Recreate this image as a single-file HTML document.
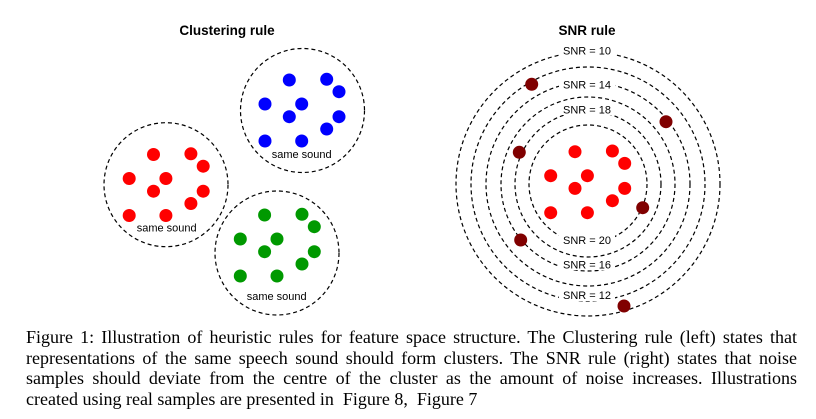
<!DOCTYPE html>
<html><head><style>
html,body{margin:0;padding:0;background:#fff;width:816px;height:419px;overflow:hidden;position:relative}
svg{position:absolute;left:0;top:0}
.cap{position:absolute;left:26px;top:327px;width:771px;font-family:"Liberation Serif",serif;font-size:18px;line-height:20.5px;color:#000;text-align:justify}
.cap span{display:block;text-align:justify;text-align-last:justify;white-space:nowrap}
.cap span.l{text-align-last:left}
</style></head><body>
<svg width="816" height="419" font-family="Liberation Sans, sans-serif">
<defs>
<g id="cl">
<circle cx="289.3" cy="80" r="6.5"/><circle cx="326.7" cy="79.3" r="6.5"/><circle cx="339" cy="91.7" r="6.5"/>
<circle cx="265" cy="104" r="6.5"/><circle cx="301.7" cy="104" r="6.5"/><circle cx="289.3" cy="116.7" r="6.5"/>
<circle cx="339" cy="116.7" r="6.5"/><circle cx="326.7" cy="129" r="6.5"/><circle cx="265" cy="141" r="6.5"/>
<circle cx="301.7" cy="141" r="6.5"/>
</g>
</defs>
<text x="227" y="35" font-size="13.5" font-weight="bold" text-anchor="middle">Clustering rule</text>
<g fill="none" stroke="#000" stroke-width="1.2" stroke-dasharray="4,3">
<circle cx="302.5" cy="110.5" r="62"/>
<circle cx="166" cy="184.7" r="62"/>
<circle cx="277" cy="253" r="62"/>
</g>
<use href="#cl" fill="#0000ff"/>
<use href="#cl" fill="#ff0000" transform="translate(-135.8,74.5)"/>
<use href="#cl" fill="#009900" transform="translate(-24.7,135)"/>
<g font-size="11" text-anchor="middle">
<text x="301.7" y="158">same sound</text>
<text x="166.7" y="231.5">same sound</text>
<text x="276.7" y="300">same sound</text>
</g>
<text x="587" y="35" font-size="13.5" font-weight="bold" text-anchor="middle">SNR rule</text>
<g fill="none" stroke="#000" stroke-width="1.2" stroke-dasharray="4,3">
<circle cx="588" cy="184" r="132"/>
<circle cx="588" cy="184" r="117"/>
<circle cx="588" cy="184" r="102"/>
<circle cx="588" cy="184" r="87"/>
<circle cx="588" cy="184" r="73"/>
<circle cx="588" cy="184" r="59"/>
</g>
<use href="#cl" fill="#ff0000" transform="translate(285.7,71.7)"/>
<g fill="#800000">
<circle cx="531.7" cy="84.3" r="6.5"/><circle cx="666" cy="121.7" r="6.5"/><circle cx="519.3" cy="152.3" r="6.5"/>
<circle cx="642.7" cy="207.7" r="6.5"/><circle cx="520.7" cy="240" r="6.5"/><circle cx="624" cy="306" r="6.5"/>
</g>
<g fill="#fff">
<rect x="559" y="44" width="56" height="12"/><rect x="559" y="78" width="56" height="12"/><rect x="559" y="103" width="56" height="12"/>
<rect x="559" y="234" width="56" height="12"/><rect x="559" y="258" width="56" height="12"/><rect x="559" y="289" width="56" height="12"/>
</g>
<g font-size="11" text-anchor="middle">
<text x="587" y="54.5">SNR = 10</text>
<text x="587" y="88.5">SNR = 14</text>
<text x="587" y="113.5">SNR = 18</text>
<text x="587" y="244">SNR = 20</text>
<text x="587" y="268.5">SNR = 16</text>
<text x="587" y="299">SNR = 12</text>
</g>
</svg>
<div class="cap">
<span>Figure 1: Illustration of heuristic rules for feature space structure. The Clustering rule (left) states that</span>
<span>representations of the same speech sound should form clusters. The SNR rule (right) states that noise</span>
<span>samples should deviate from the centre of the cluster as the amount of noise increases. Illustrations</span>
<span class="l">created using real samples are presented in &nbsp;Figure 8, &nbsp;Figure 7</span>
</div>
</body></html>
